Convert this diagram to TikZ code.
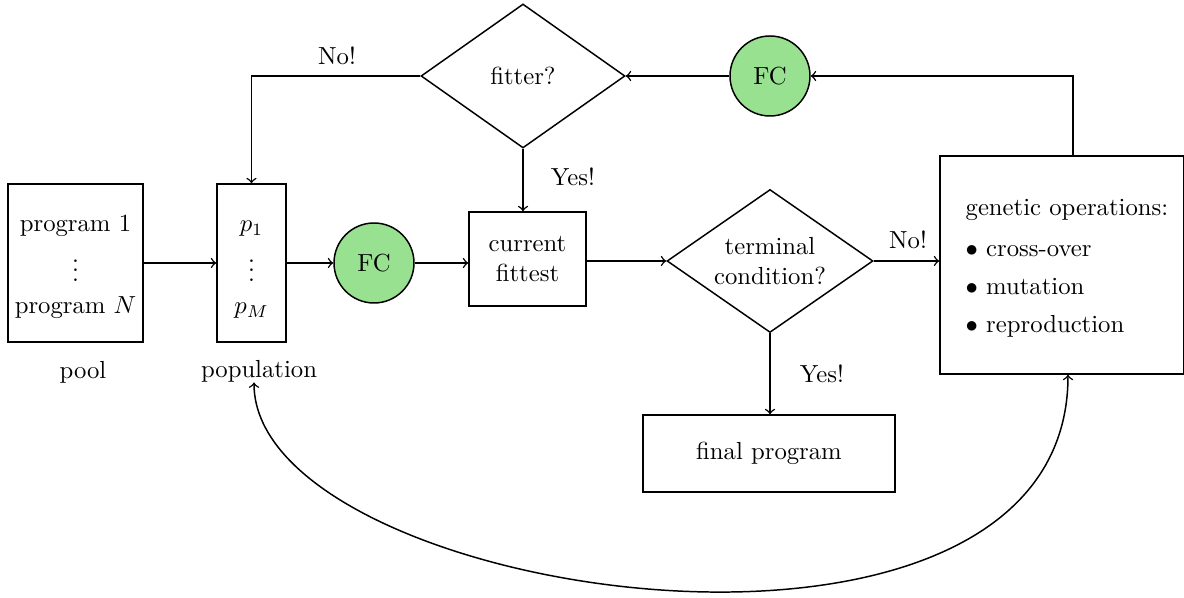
\documentclass[tikz,border=0pt]{standalone}
\usetikzlibrary{shapes.geometric}
\definecolor{fcgreen}{RGB}{152,225,145}
\newcommand\pxu{0.405pt}
\begin{document}
\begin{tikzpicture}[x=0.405pt,y=-0.405pt,
  box/.style={draw, semithick, inner sep=0pt, align=center},
  dia/.style={draw, semithick, diamond, inner sep=0pt, align=center},
  fc/.style={draw, semithick, circle, fill=fcgreen, minimum size=80*\pxu, inner sep=0pt},
  arr/.style={semithick, ->},
  lbl/.style={inner sep=0pt}]
\useasboundingbox (0,0) rectangle (1184,598);
% nodes
\node[box, minimum width=135*\pxu, minimum height=158*\pxu] (pool) at (75.5,263)
  {\rule{0pt}{9.6pt}program 1\\[2.4pt]$\vdots$\\[0.8pt]program $N$};
\node[lbl] (poollbl) at (83,372) {pool};
\node[box, minimum width=69*\pxu, minimum height=158*\pxu] (pop) at (251.5,263)
  {\rule{0pt}{9.6pt}$p_1$\\[2.4pt]$\vdots$\\[0.8pt]$p_M$};
\node[lbl] (poplbl) at (259,371) {population};
\node[fc] (fc1) at (374,263) {FC};
\node[box, minimum width=117*\pxu, minimum height=94*\pxu] (cur) at (527.5,259) {current\\fittest};
\node[dia, aspect=1.44, minimum width=206*\pxu, minimum height=143*\pxu] (term) at (770,261) {terminal\\condition?};
\node[box, minimum width=244*\pxu, minimum height=218*\pxu, align=left] (gen) at (1062,265)
  {\hspace*{4pt}\rule{0pt}{9.5pt}genetic operations:\\[4.5pt]\hspace*{4pt}$\bullet$ cross-over\\[3.5pt]\hspace*{4pt}$\bullet$ mutation\\[3.5pt]\hspace*{4pt}$\bullet$ reproduction};
\node[box, minimum width=252*\pxu, minimum height=77*\pxu] (final) at (769,453.5) {final program};
\node[dia, aspect=1.42, minimum width=204*\pxu, minimum height=144*\pxu] (fit) at (523,76) {fitter?};
\node[fc] (fc2) at (770,76) {FC};
% connectors
\draw[arr] (pool.east) -- (pop.west);
\draw[arr] (pop.east) -- (fc1.west);
\draw[arr] (fc1.east) -- (fc1.east -| cur.west);
\draw[arr] (cur.east |- term.west) -- (term.west);
\draw[arr] (term.east) -- (term.east -| gen.west);
\node[lbl] (no1) at (908,240) {No!};
\draw[arr] (term.south) -- (term.south |- final.north);
\node[lbl] (yes1) at (822,374) {Yes!};
\draw[arr] ([xshift=11*\pxu]gen.north) |- (fc2.east);
\draw[arr] (fc2.west) -- (fit.east);
\draw[arr] (fit.west) -| (pop.north);
\node[lbl] (no2) at (337,56) {No!};
\draw[arr] (fit.south) -- (fit.south |- cur.north);
\node[lbl] (yes2) at (573,177) {Yes!};
\draw[semithick, <->] ([xshift=-5*\pxu]poplbl.south) .. controls (254,600) and (1068,720) .. ([xshift=6*\pxu]gen.south);
\end{tikzpicture}
\end{document}
